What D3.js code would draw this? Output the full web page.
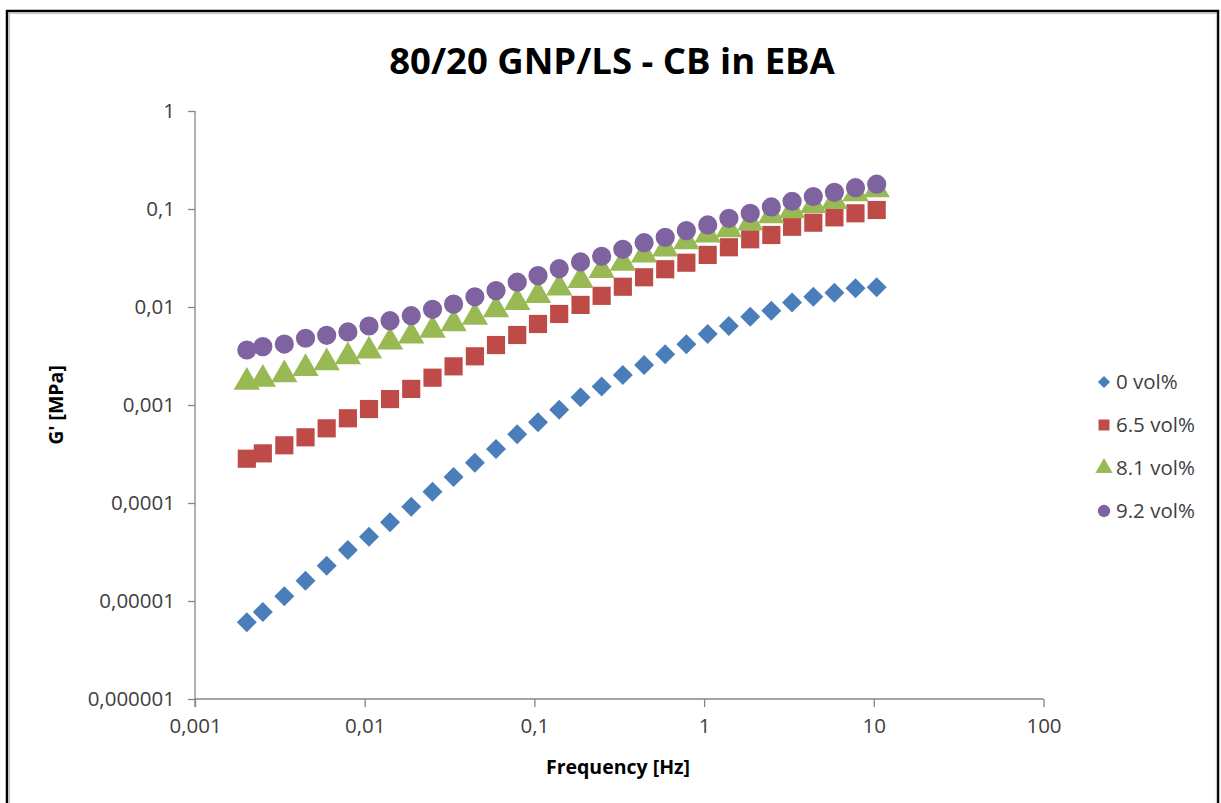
<!DOCTYPE html>
<html>
<head>
<meta charset="utf-8">
<script src="https://cdn.jsdelivr.net/npm/d3@7"></script>
<style>
  body { margin: 0; background: #fff; }
  svg { display: block; }
  text { font-family: "Open Sans", "Liberation Sans", sans-serif; }
</style>
</head>
<body>
<div id="chart"></div>
<script>
// frequency sweep [Hz], shared by all series
var freq = [0.00202, 0.00251, 0.00336, 0.00448, 0.00597, 0.00796, 0.0106, 0.0141, 0.0188, 0.0251,
            0.0334, 0.0446, 0.0594, 0.0792, 0.105, 0.140, 0.187, 0.249, 0.332, 0.443,
            0.590, 0.786, 1.05, 1.40, 1.87, 2.49, 3.30, 4.40, 5.86, 7.80, 10.4];

// G' [MPa]
var g0 = [6.07e-6, 7.73e-6, 1.12e-5, 1.61e-5, 2.29e-5, 3.31e-5, 4.53e-5, 6.35e-5, 9.16e-5, 1.30e-4,
          1.84e-4, 2.58e-4, 3.55e-4, 5.02e-4, 6.66e-4, 8.95e-4, 1.20e-3, 1.54e-3, 2.02e-3, 2.56e-3,
          3.29e-3, 4.16e-3, 5.30e-3, 6.40e-3, 7.96e-3, 9.17e-3, 0.0111, 0.0127, 0.0140, 0.0155, 0.0159];
var g65 = [2.83e-4, 3.21e-4, 3.88e-4, 4.68e-4, 5.78e-4, 7.32e-4, 9.10e-4, 1.15e-3, 1.46e-3, 1.90e-3,
           2.48e-3, 3.14e-3, 4.09e-3, 5.18e-3, 6.71e-3, 8.49e-3, 0.0105, 0.0130, 0.0161, 0.0201,
           0.0243, 0.0283, 0.0340, 0.0407, 0.0491, 0.0543, 0.0659, 0.0725, 0.0822, 0.0904, 0.0977];
var g81 = [1.79e-3, 1.92e-3, 2.14e-3, 2.48e-3, 2.83e-3, 3.26e-3, 3.73e-3, 4.61e-3, 5.30e-3, 6.10e-3,
           7.08e-3, 8.28e-3, 9.84e-3, 0.0117, 0.0138, 0.0164, 0.0196, 0.0247, 0.0293, 0.0356,
           0.0410, 0.0487, 0.0569, 0.0646, 0.0754, 0.0898, 0.101, 0.114, 0.125, 0.150, 0.165];
var g92 = [3.64e-3, 3.94e-3, 4.19e-3, 4.80e-3, 5.14e-3, 5.56e-3, 6.40e-3, 7.25e-3, 8.15e-3, 9.47e-3,
           0.0107, 0.0127, 0.0147, 0.0179, 0.0209, 0.0246, 0.0288, 0.0329, 0.0388, 0.0453,
           0.0514, 0.0601, 0.0687, 0.0804, 0.0904, 0.105, 0.120, 0.134, 0.148, 0.165, 0.179];

var seriesNames = ["0 vol%", "6.5 vol%", "8.1 vol%", "9.2 vol%"];
var seriesValues = [g0, g65, g81, g92];
var colors = ["#4a7ebb", "#be4b48", "#98b954", "#7f63a1"];
var symbols = [d3.symbolSquare, d3.symbolSquare, d3.symbolTriangle, d3.symbolCircle];
var rotations = [45, 0, 0, 0];   // Excel diamond = square turned 45deg
var markerSize = [200, 330, 300, 290];
var legendSize = [75, 120, 130, 120];

var xTicks = [0.001, 0.01, 0.1, 1, 10, 100];
var yTicks = [0.000001, 0.00001, 0.0001, 0.001, 0.01, 0.1, 1];
var xTickLabels = ["0,001", "0,01", "0,1", "1", "10", "100"];
var yTickLabels = ["0,000001", "0,00001", "0,0001", "0,001", "0,01", "0,1", "1"];

var W = 1221, H = 803;
var svg = d3.select("#chart").append("svg").attr("width", W).attr("height", H);

// chart frame
svg.append("rect").attr("x", 7).attr("y", 11).attr("width", 1211).attr("height", 820)
  .attr("fill", "none").attr("stroke", "#000").attr("stroke-width", 2.5);
svg.append("rect").attr("x", 9.5).attr("y", 13.5).attr("width", 1207).attr("height", 820)
  .attr("fill", "none").attr("stroke", "#c8c8c8").attr("stroke-width", 1.2);

var x = d3.scaleLog().domain([0.001, 100]).range([195, 1043.5]);
var y = d3.scaleLog().domain([0.000001, 1]).range([699, 111]);

var axisColor = "#868686";

var xAxis = svg.append("g").attr("transform", "translate(0,699)")
  .call(d3.axisBottom(x).tickValues(xTicks).tickSize(8).tickPadding(11)
    .tickFormat(function (d, i) { return xTickLabels[i]; }));
var yAxis = svg.append("g").attr("transform", "translate(195,0)")
  .call(d3.axisLeft(y).tickValues(yTicks).tickSize(7).tickPadding(13)
    .tickFormat(function (d, i) { return yTickLabels[i]; }));

[xAxis, yAxis].forEach(function (a) {
  a.select(".domain").attr("stroke", axisColor).attr("stroke-width", 1.3);
  a.selectAll(".tick line").attr("stroke", axisColor).attr("stroke-width", 1.3);
  a.selectAll(".tick text").style("font-size", "20.5px")
    .style("font-family", "'Open Sans', sans-serif").style("fill", "#404040");
});
xAxis.select(".domain").attr("d", "M195,0H1043.5");
yAxis.select(".domain").attr("d", "M0,111V707");

// series
seriesValues.forEach(function (vals, s) {
  var pts = freq.map(function (f, i) { return { f: f, g: vals[i] }; });
  var sym = d3.symbol().type(symbols[s]).size(markerSize[s]);
  svg.append("g").selectAll("path").data(pts).enter().append("path")
    .attr("d", sym)
    .attr("transform", function (d) {
      var dy = s === 2 ? 2 : 0;
      return "translate(" + x(d.f) + "," + (y(d.g) + dy) + ") rotate(" + rotations[s] + ")";
    })
    .attr("fill", colors[s]);
});

// title
svg.append("text").attr("x", 612).attr("y", 74).attr("text-anchor", "middle")
  .style("font-size", "36.5px").style("font-weight", "bold").style("fill", "#000")
  .text("80/20 GNP/LS - CB in EBA");

// axis titles
svg.append("text").attr("x", 618).attr("y", 774).attr("text-anchor", "middle")
  .style("font-size", "19.5px").style("font-weight", "bold").style("fill", "#000")
  .text("Frequency [Hz]");
svg.append("text").attr("transform", "translate(63,405) rotate(-90)").attr("text-anchor", "middle")
  .style("font-size", "19.5px").style("font-weight", "bold").style("fill", "#000")
  .text("G' [MPa]");

// legend
var legend = svg.append("g");
seriesNames.forEach(function (name, s) {
  var ly = 382 + s * 43;
  legend.append("path")
    .attr("d", d3.symbol().type(symbols[s]).size(legendSize[s]))
    .attr("transform", "translate(1104," + ly + ") rotate(" + rotations[s] + ")")
    .attr("fill", colors[s]);
  legend.append("text").attr("x", 1116).attr("y", ly + 7)
    .style("font-size", "20.5px").style("fill", "#404040").text(name);
});
</script>
</body>
</html>
